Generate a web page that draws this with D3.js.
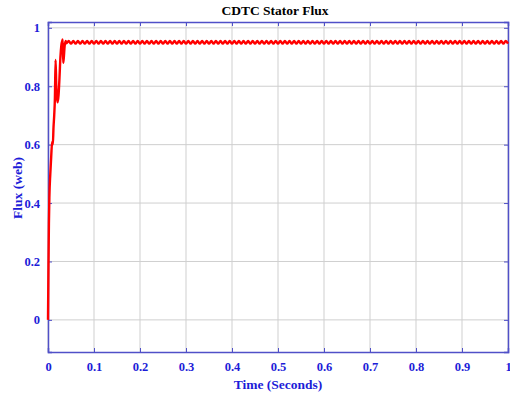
<!DOCTYPE html>
<html>
<head>
<meta charset="utf-8">
<script src="https://cdn.jsdelivr.net/npm/d3@7"></script>
<style>
  body { margin: 0; background: #fff; }
  text { font-family: "Liberation Serif", "DejaVu Serif", serif; font-weight: bold; }
</style>
</head>
<body>
<svg id="chart" width="510" height="395"></svg>
<script>
// Start-up transient
var transientTime = [0, 0.001, 0.002, 0.003, 0.005, 0.007, 0.009, 0.0105, 0.012, 0.0135, 0.015, 0.0165, 0.018, 0.0195, 0.021, 0.023, 0.025, 0.027, 0.029, 0.031, 0.032, 0.033, 0.0345, 0.036, 0.0385]
var transientFlux = [0, 0.18, 0.33, 0.42, 0.5, 0.56, 0.61, 0.6, 0.66, 0.7, 0.76, 0.89, 0.8, 0.76, 0.745, 0.77, 0.83, 0.9, 0.94, 0.955, 0.96, 0.88, 0.9, 0.935, 0.955]

// Steady state ripple, sampled every 5 ms from 0.04 s
var steadyStart = 0.04
var steadyStep = 0.005
var steadyFlux = [
  0.947, 0.955, 0.946, 0.955, 0.946, 0.955, 0.946, 0.955, 0.946, 0.955,
  0.946, 0.955, 0.946, 0.955, 0.946, 0.955, 0.946, 0.955, 0.946, 0.955,
  0.946, 0.955, 0.946, 0.955, 0.946, 0.955, 0.946, 0.955, 0.946, 0.955,
  0.946, 0.955, 0.946, 0.955, 0.946, 0.955, 0.946, 0.955, 0.946, 0.955,
  0.946, 0.955, 0.946, 0.955, 0.946, 0.955, 0.946, 0.955, 0.946, 0.955,
  0.946, 0.955, 0.946, 0.955, 0.946, 0.955, 0.946, 0.955, 0.946, 0.955,
  0.946, 0.955, 0.946, 0.955, 0.946, 0.955, 0.946, 0.955, 0.946, 0.955,
  0.946, 0.955, 0.946, 0.955, 0.946, 0.955, 0.946, 0.955, 0.946, 0.955,
  0.946, 0.955, 0.946, 0.955, 0.946, 0.955, 0.946, 0.955, 0.946, 0.955,
  0.946, 0.955, 0.946, 0.955, 0.946, 0.955, 0.946, 0.955, 0.946, 0.955,
  0.946, 0.955, 0.946, 0.955, 0.946, 0.955, 0.946, 0.955, 0.946, 0.955,
  0.946, 0.955, 0.946, 0.955, 0.946, 0.955, 0.946, 0.955, 0.946, 0.955,
  0.946, 0.955, 0.946, 0.955, 0.946, 0.955, 0.946, 0.955, 0.946, 0.955,
  0.946, 0.955, 0.946, 0.955, 0.946, 0.955, 0.946, 0.955, 0.946, 0.955,
  0.946, 0.955, 0.946, 0.955, 0.946, 0.955, 0.946, 0.955, 0.946, 0.955,
  0.946, 0.955, 0.946, 0.955, 0.946, 0.955, 0.946, 0.955, 0.946, 0.955,
  0.946, 0.955, 0.946, 0.955, 0.946, 0.955, 0.946, 0.955, 0.946, 0.955,
  0.946, 0.955, 0.946, 0.955, 0.946, 0.955, 0.946, 0.955, 0.946, 0.955,
  0.946, 0.955, 0.946, 0.955, 0.946, 0.955, 0.946, 0.955, 0.946, 0.955,
  0.946, 0.955, 0.946
]

var xTicks = [0, 0.1, 0.2, 0.3, 0.4, 0.5, 0.6, 0.7, 0.8, 0.9, 1]
var yTicks = [0, 0.2, 0.4, 0.6, 0.8, 1]

var plotLeft = 48, plotRight = 508, plotTop = 22, plotBottom = 352
var axisBlue = "#5050c8"
var labelBlue = "#1c1cd8"

var svg = d3.select("#chart")

var x = d3.scaleLinear().domain([0, 1]).range([plotLeft, plotRight])
var y = d3.scaleLinear().domain([-0.11, 1.02]).range([plotBottom, plotTop])

var data = transientTime.map(function (t, i) { return [t, transientFlux[i]] })
steadyFlux.forEach(function (v, i) {
    data.push([steadyStart + i * steadyStep, v])
})

// grid
svg.append("g").selectAll("line")
    .data(xTicks)
    .enter().append("line")
    .attr("x1", function (d) { return x(d) }).attr("x2", function (d) { return x(d) })
    .attr("y1", plotTop).attr("y2", plotBottom)
    .attr("stroke", "#cfcfcf").attr("stroke-width", 1)

svg.append("g").selectAll("line")
    .data(yTicks)
    .enter().append("line")
    .attr("y1", function (d) { return y(d) }).attr("y2", function (d) { return y(d) })
    .attr("x1", plotLeft).attr("x2", plotRight)
    .attr("stroke", "#cfcfcf").attr("stroke-width", 1)

// axes (ticks inward, like matlab)
var fmt = function (d) { return String(+d.toFixed(1)) }
svg.append("g")
    .attr("transform", "translate(0," + plotBottom + ")")
    .call(d3.axisBottom(x).tickValues(xTicks).tickSize(-4).tickPadding(10).tickFormat(fmt))
svg.append("g")
    .attr("transform", "translate(" + plotLeft + ",0)")
    .call(d3.axisLeft(y).tickValues(yTicks).tickSize(-4).tickPadding(8).tickFormat(fmt))

svg.append("g").attr("transform", "translate(0," + plotTop + ")")
    .call(d3.axisTop(x).tickValues(xTicks).tickSize(-4).tickFormat(""))
svg.append("g").attr("transform", "translate(" + plotRight + ",0)")
    .call(d3.axisRight(y).tickValues(yTicks).tickSize(-4).tickFormat(""))

svg.selectAll(".domain").attr("stroke", axisBlue).attr("stroke-width", 1.5)
svg.selectAll(".tick line").attr("stroke", axisBlue)
svg.selectAll(".tick text")
    .attr("fill", labelBlue)
    .style("font-size", "12.5px")
    .style("font-family", "Liberation Serif, serif")
    .style("font-weight", "bold")

// flux line
svg.append("path")
    .datum(data)
    .attr("fill", "none")
    .attr("stroke", "#ff0000")
    .attr("stroke-width", 2.4)
    .attr("d", d3.line()
        .x(function (d) { return x(d[0]) })
        .y(function (d) { return y(d[1]) })
        .curve(d3.curveMonotoneX))

// titles
svg.append("text")
    .attr("x", 275).attr("y", 15)
    .attr("text-anchor", "middle")
    .attr("fill", "#000")
    .style("font-size", "13.5px")
    .text("CDTC Stator Flux")

svg.append("text")
    .attr("x", 278).attr("y", 389)
    .attr("text-anchor", "middle")
    .attr("fill", labelBlue)
    .style("font-size", "13.5px")
    .text("Time (Seconds)")

svg.append("text")
    .attr("transform", "translate(22," + 188 + ") rotate(-90)")
    .attr("text-anchor", "middle")
    .attr("fill", labelBlue)
    .style("font-size", "13.5px")
    .text("Flux (web)")
</script>
</body>
</html>
